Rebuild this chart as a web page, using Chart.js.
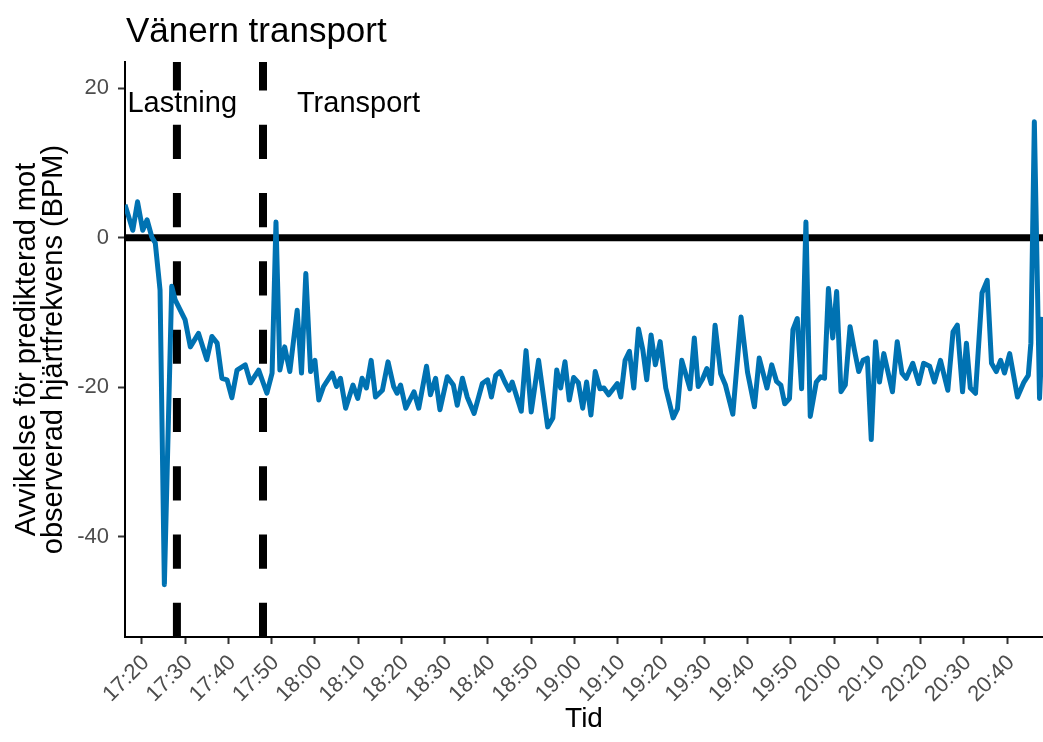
<!DOCTYPE html>
<html lang="sv">
<head>
<meta charset="utf-8">
<title>Vänern transport</title>
<script src="https://cdn.jsdelivr.net/npm/chart.js@4.4.1/dist/chart.umd.min.js"></script>
<style>
  html, body { margin: 0; padding: 0; background: #ffffff; }
  canvas { display: block; }
</style>
</head>
<body>
<canvas id="chart" width="1043" height="742"></canvas>
<script>
// Mätpunkter: klockslag och avvikelse (BPM) mellan predikterad och observerad hjärtfrekvens
const tider = [
  "17:16:06","17:17:54","17:19:00","17:20:12","17:21:12","17:22:18","17:23:06","17:23:48","17:24:12","17:25:12",
  "17:26:54","17:27:42","17:30:00","17:31:12","17:33:06","17:35:00","17:36:12","17:37:24","17:38:30","17:39:42",
  "17:40:48","17:42:00","17:43:54","17:45:06","17:47:00","17:48:54","17:50:06","17:51:00","17:51:54","17:53:00",
  "17:54:12","17:55:54","17:56:54","17:57:54","17:59:00","18:00:00","18:00:54","18:02:00","18:04:00","18:05:00",
  "18:05:54","18:07:06","18:08:48","18:09:54","18:10:54","18:11:54","18:13:00","18:14:00","18:15:36","18:16:54",
  "18:18:12","18:19:00","18:19:48","18:21:00","18:22:54","18:24:00","18:25:48","18:26:42","18:27:54","18:28:54",
  "18:30:36","18:32:00","18:32:54","18:34:06","18:35:12","18:36:48","18:38:42","18:39:54","18:40:48","18:41:48",
  "18:42:48","18:43:54","18:44:54","18:45:36","18:47:42","18:48:48","18:50:00","18:51:42","18:53:48","18:55:00",
  "18:55:54","18:56:48","18:57:48","18:58:48","18:59:48","19:00:54","19:01:54","19:02:48","19:03:48","19:04:48",
  "19:05:54","19:06:48","19:07:54","19:09:54","19:10:42","19:11:42","19:12:42","19:13:42","19:14:48","19:15:48",
  "19:16:42","19:17:42","19:18:42","19:19:48","19:21:06","19:22:48","19:23:48","19:24:48","19:26:42","19:27:42",
  "19:28:36","19:29:36","19:30:36","19:31:36","19:32:30","19:33:48","19:34:54","19:36:36","19:38:30","19:40:00",
  "19:41:36","19:42:42","19:44:30","19:45:36","19:46:42","19:47:42","19:48:36","19:49:42","19:50:30","19:51:30",
  "19:52:30","19:53:30","19:54:30","19:55:54","19:56:54","19:57:48","19:58:42","19:59:42","20:00:36","20:01:36",
  "20:02:36","20:03:42","20:04:42","20:05:42","20:06:42","20:07:42","20:08:36","20:09:36","20:10:30","20:11:30",
  "20:13:30","20:14:36","20:15:42","20:16:42","20:18:12","20:19:36","20:20:42","20:22:06","20:23:12","20:24:36",
  "20:26:18","20:27:30","20:28:30","20:29:42","20:30:36","20:31:30","20:32:42","20:34:12","20:35:24","20:36:24",
  "20:37:30","20:38:30","20:39:24","20:40:36","20:42:24","20:43:54","20:44:54","20:45:30","20:46:18","20:47:30",
  "20:48:18"
];
const avvikelse = [
  4.4, 1.0, 4.8, 1.0, 2.4, 0.1, -0.7, -4.7, -7.0, -46.4,
  -6.5, -8.3, -11.0, -14.6, -12.8, -16.3, -13.2, -14.1, -18.8, -19.0,
  -21.4, -17.7, -17.0, -19.4, -17.7, -20.8, -18.1, 2.1, -17.7, -14.6,
  -17.9, -9.7, -18.1, -4.8, -17.9, -16.4, -21.7, -19.9, -18.1, -19.9,
  -18.8, -22.8, -19.7, -21.5, -18.8, -20.1, -16.4, -21.3, -20.4, -16.6,
  -19.9, -20.8, -19.7, -22.8, -20.6, -22.8, -17.2, -21.0, -18.8, -23.0,
  -18.6, -19.7, -22.4, -18.8, -21.3, -23.5, -19.5, -19.0, -21.3, -18.4,
  -17.9, -19.3, -20.4, -19.3, -23.2, -15.1, -23.3, -16.4, -25.3, -24.1,
  -17.7, -20.1, -16.6, -21.7, -18.7, -19.4, -22.8, -19.3, -23.7, -17.9,
  -20.2, -20.1, -21.0, -19.5, -21.3, -16.4, -15.2, -20.1, -12.2, -15.0,
  -19.0, -13.0, -17.0, -13.9, -20.1, -24.1, -22.9, -16.4, -20.2, -13.4,
  -19.9, -18.9, -17.5, -19.5, -11.7, -18.2, -19.7, -23.6, -10.6, -18.0,
  -22.6, -16.1, -20.1, -17.0, -19.2, -19.7, -22.2, -21.5, -12.3, -10.8,
  -20.2, 2.1, -23.9, -19.3, -18.6, -18.8, -6.8, -13.4, -7.2, -20.6,
  -19.7, -11.9, -15.0, -17.9, -16.4, -16.1, -27.0, -13.9, -19.3, -15.5,
  -20.6, -13.9, -18.1, -18.8, -16.8, -19.5, -16.8, -17.2, -19.3, -16.4,
  -20.4, -12.6, -11.7, -20.6, -14.1, -20.1, -20.8, -7.4, -5.7, -16.8,
  -17.9, -16.4, -18.1, -15.5, -21.3, -19.3, -18.4, -14.1, 15.5, -21.5,
  -10.6
];

// Axelmarkeringar
const tidTicks = ["17:20","17:30","17:40","17:50","18:00","18:10","18:20","18:30","18:40","18:50","19:00",
                  "19:10","19:20","19:30","19:40","19:50","20:00","20:10","20:20","20:30","20:40"];
const yTicks = [-40, -20, 0, 20];

// Fasgränser (lastning -> transport) och fasetiketter
const fasGranser = ["17:28:06", "17:48:00"];
const fasNamn = ["Lastning", "Transport"];
const fasEtikettTider = ["17:29:20", "18:10:04"];
const fasEtikettNiva = 18;
const nollNiva = 0;

function tillMinuter(s) {
  const p = s.split(":").map(Number);
  return p[0] * 60 + p[1] + (p[2] || 0) / 60;
}

const FONT = "'Liberation Sans', Arial, Helvetica, sans-serif";
Chart.defaults.font.family = FONT;

const xMin = tillMinuter(tider[0]);
const xMax = tillMinuter(tider[tider.length - 1]);

// Referenslinjer: nollnivå och streckade fasgränser
const referensLinjer = {
  id: "referensLinjer",
  beforeDatasetsDraw(chart) {
    const { ctx, chartArea: a, scales: { x, y } } = chart;
    ctx.save();
    ctx.beginPath();
    ctx.rect(a.left, a.top, a.right - a.left, a.bottom - a.top);
    ctx.clip();
    ctx.strokeStyle = "#000000";
    ctx.lineCap = "butt";
    ctx.setLineDash([34.15, 34.15]);
    ctx.lineWidth = 8;
    fasGranser.forEach(t => {
      const px = x.getPixelForValue(tillMinuter(t));
      ctx.beginPath();
      ctx.moveTo(px, a.bottom);
      ctx.lineTo(px, a.top);
      ctx.stroke();
    });
    ctx.setLineDash([]);
    ctx.lineWidth = 7;
    const py = y.getPixelForValue(nollNiva);
    ctx.beginPath();
    ctx.moveTo(a.left, py);
    ctx.lineTo(a.right, py);
    ctx.stroke();
    ctx.restore();
  }
};

// Fasetiketter och diagramrubrik
const texter = {
  id: "texter",
  afterDraw(chart) {
    const { ctx, chartArea: a, scales: { x, y } } = chart;
    ctx.save();
    ctx.fillStyle = "#000000";
    ctx.font = "29px " + FONT;
    ctx.textAlign = "center";
    ctx.textBaseline = "middle";
    fasNamn.forEach((namn, i) => {
      ctx.fillText(namn, x.getPixelForValue(tillMinuter(fasEtikettTider[i])), y.getPixelForValue(fasEtikettNiva) + 1);
    });
    ctx.font = "35px " + FONT;
    ctx.textAlign = "left";
    ctx.textBaseline = "alphabetic";
    ctx.fillText("Vänern transport", a.left + 1, 42);
    ctx.restore();
  }
};

new Chart(document.getElementById("chart"), {
  type: "line",
  data: {
    datasets: [{
      data: tider.map((t, i) => ({ x: tillMinuter(t), y: avvikelse[i] })),
      borderColor: "#0072B2",
      borderWidth: 5,
      pointRadius: 0,
      tension: 0,
      borderJoinStyle: "round",
      fill: false
    }]
  },
  options: {
    responsive: false,
    animation: false,
    devicePixelRatio: 1,
    layout: { padding: { top: 62, left: 0, right: 0, bottom: 0 } },
    plugins: {
      legend: { display: false },
      tooltip: { enabled: false },
      title: { display: false }
    },
    scales: {
      x: {
        type: "linear",
        min: xMin,
        max: xMax,
        afterBuildTicks: s => { s.ticks = tidTicks.map(t => ({ value: tillMinuter(t) })); },
        afterFit: s => { s.height = 105; s.paddingLeft = 0; s.paddingRight = 0; },
        ticks: {
          autoSkip: false,
          minRotation: 45,
          maxRotation: 45,
          padding: 6,
          labelOffset: 4,
          color: "#4D4D4D",
          font: { size: 22 },
          callback: (v, i) => tidTicks[i]
        },
        grid: { drawOnChartArea: false, drawTicks: true, tickLength: 7, tickColor: "#333333", tickWidth: 2 },
        border: { display: true, color: "#000000", width: 2 },
        title: {
          display: true,
          text: "Tid",
          color: "#000000",
          font: { size: 28 },
          padding: { top: 0, bottom: 6 }
        }
      },
      y: {
        type: "linear",
        min: -53.4,
        max: 23.5,
        afterBuildTicks: s => { s.ticks = yTicks.map(v => ({ value: v })); },
        afterFit: s => { s.width = 125; s.paddingTop = 0; s.paddingBottom = 0; },
        ticks: {
          padding: 9,
          color: "#4D4D4D",
          font: { size: 22 }
        },
        grid: { drawOnChartArea: false, drawTicks: true, tickLength: 7, tickColor: "#333333", tickWidth: 2 },
        border: { display: true, color: "#000000", width: 2 },
        title: {
          display: true,
          text: ["Avvikelse för predikterad mot", "observerad hjärtfrekvens (BPM)"],
          color: "#000000",
          font: { size: 29, lineHeight: 0.95 },
          padding: { top: 13, bottom: 0 }
        }
      }
    }
  },
  plugins: [referensLinjer, texter]
});
</script>
</body>
</html>
